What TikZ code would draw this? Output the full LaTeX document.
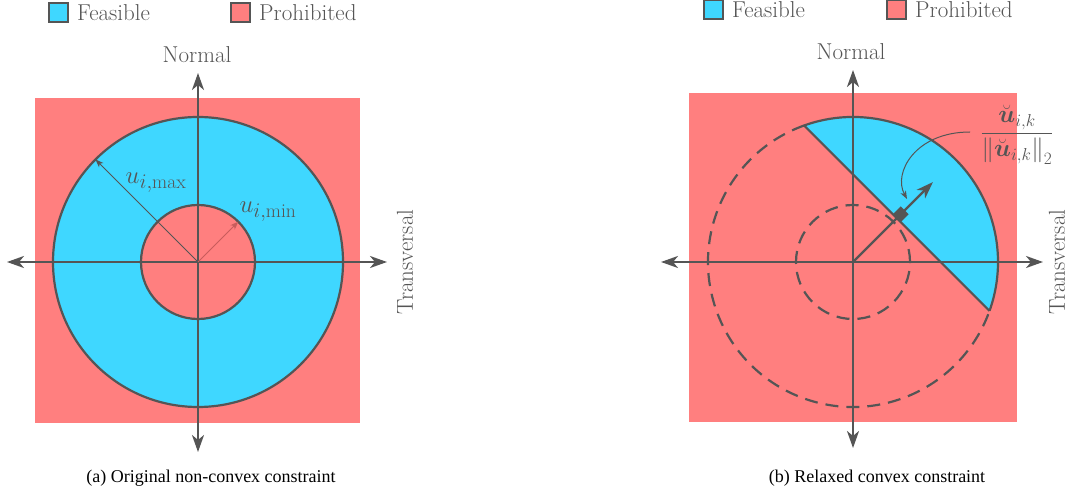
\documentclass[tikz,border=0pt]{standalone}
\usepackage{amsmath}
\usepackage{fontspec}
\newfontfamily\capfont{Liberation Serif}
\usetikzlibrary{arrows.meta,calc}
\definecolor{feas}{HTML}{3FD7FF}
\definecolor{proh}{HTML}{FF7F7F}
\definecolor{ln}{HTML}{555555}
\definecolor{minarrow}{HTML}{C85C5C}
\begin{document}
\begin{tikzpicture}[x=1pt,y=1pt,
  big/.style={font=\fontsize{23}{27}\selectfont, text=ln, inner sep=0pt},
  mathlbl/.style={font=\fontsize{28}{32}\selectfont, text=ln, inner sep=0pt},
  captext/.style={font=\capfont\fontsize{18}{21}\selectfont, text=black, inner sep=0pt},
  legbox/.style={draw=ln, line width=2pt, minimum size=19pt, inner sep=0pt},
  axis/.style={line width=2.2pt, draw=ln, {Stealth[length=17pt,width=12pt,inset=5pt]}-{Stealth[length=17pt,width=12pt,inset=5pt]}},
  outline/.style={line width=2.2pt, draw=ln},
  dashedline/.style={line width=2.2pt, draw=ln, dash pattern=on 13pt off 8pt},
  thinarrow/.style={line width=1pt, -{Stealth[length=8pt,width=6pt,inset=2pt]}},
  thickarrow/.style={line width=2.2pt, draw=ln, -{Stealth[length=17pt,width=12pt,inset=5pt]}}
]
\useasboundingbox (0,0) rectangle (1067,495);

% ---------------- legends ----------------
\node[legbox, fill=feas] (lf1) at (58,482) {};
\node[big, anchor=west] (lt1) at (77,482) {Feasible};
\node[legbox, fill=proh] (lp1) at (240,482) {};
\node[big, anchor=west] (lt2) at (259,482) {Prohibited};
\node[legbox, fill=feas] (lf2) at (713,485) {};
\node[big, anchor=west] (lt3) at (732,485) {Feasible};
\node[legbox, fill=proh] (lp2) at (896,485) {};
\node[big, anchor=west] (lt4) at (915,485) {Prohibited};

% ---------------- left panel ----------------
\coordinate (A) at (198,233);
\fill[proh] (35,72) rectangle (360,397);
\filldraw[fill=feas, outline] (A) circle[radius=145];
\filldraw[fill=proh, outline] (A) circle[radius=57];
\coordinate (AL) at (7,233);
\coordinate (AR) at (387,233);
\coordinate (AT) at (198,422);
\coordinate (AB) at (198,43);
\draw[axis] (AL) -- (AR);
\draw[axis] (AB) -- (AT);
\coordinate (Amax) at ($(A)+(135:145)$);
\coordinate (Amin) at ($(A)+(45:57)$);
\draw[thinarrow, draw=ln] (A) -- (Amax);
\draw[thinarrow, draw=minarrow] (A) -- (Amin);
\node[mathlbl] (lmax) at (156,312) {$u_{i,\max}$};
\node[mathlbl] (lmin) at (268,283) {$u_{i,\min}$};
\node[big] (n1) at (197,440) {Normal};
\node[big, rotate=90] (t1) at (405,233) {Transversal};
\node[captext] (c1) at (211,17) {(a) Original non-convex constraint};

% ---------------- right panel ----------------
\coordinate (B) at (853,233);
\fill[proh] (689,73) rectangle (1017,402);
\fill[feas] ($(B)+(109.7:145)$) arc[start angle=109.7, end angle=-19.7, radius=145] -- cycle;
\draw[outline] ($(B)+(109.7:145)$) arc[start angle=109.7, end angle=-19.7, radius=145];
\draw[dashedline] ($(B)+(109.7:145)$) arc[start angle=109.7, end angle=340.3, radius=145];
\draw[outline] ($(B)+(109.7:145)$) -- ($(B)+(-19.7:145)$);
\draw[dashedline] (B) circle[radius=57];
\coordinate (BL) at (661,233);
\coordinate (BR) at (1043,233);
\coordinate (BT) at (853,425);
\coordinate (BB) at (853,47);
\draw[axis] (BL) -- (BR);
\draw[axis] (BB) -- (BT);
\coordinate (F) at ($(B)+(45:62)$);
\coordinate (Utip) at ($(B)+(45:113)$);
\draw[thickarrow] (B) -- (Utip);
\fill[ln] ($(F)+(-45:5.5)$) -- ++(45:11) -- ++(135:11) -- ++(-135:11) -- cycle;
\node[font=\fontsize{27}{31}\selectfont, text=ln, inner sep=0pt] (frac) at (1017,360) {$\dfrac{\breve{\boldsymbol{u}}_{i,k}}{\left\|\breve{\boldsymbol{u}}_{i,k}\right\|_2}$};
\coordinate (cs) at (970,363);
\coordinate (ce) at (907,296);
\draw[thinarrow, draw=ln] (cs) .. controls (915,363) and (893,322) .. (ce);
\node[big] (n2) at (851,443) {Normal};
\node[big, rotate=90] (t2) at (1057,233) {Transversal};
\node[captext] (c2) at (877,17) {(b) Relaxed convex constraint};
\end{tikzpicture}
\end{document}
